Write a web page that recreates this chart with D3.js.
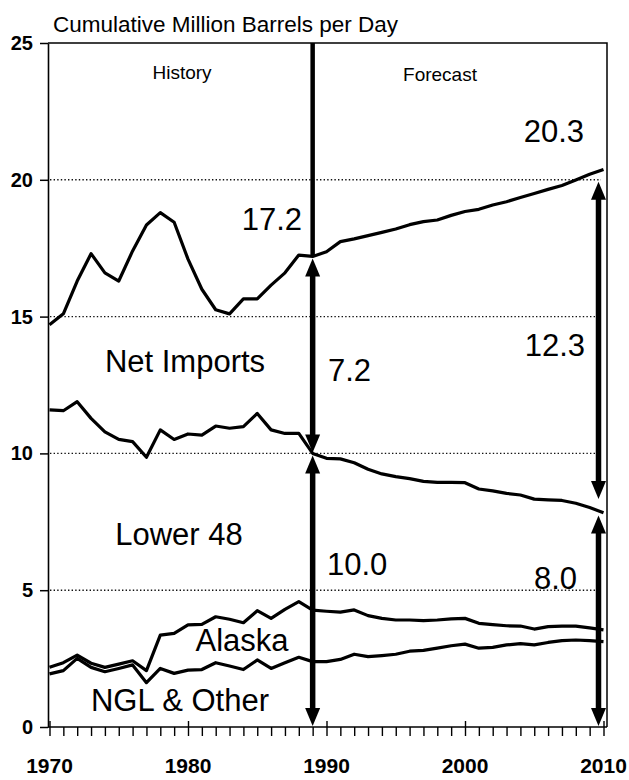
<!DOCTYPE html>
<html>
<head>
<meta charset="utf-8">
<script src="https://cdn.jsdelivr.net/npm/d3@7"></script>
<style>
  html, body { margin: 0; padding: 0; background: #fff; }
  svg { display: block; font-family: "Liberation Sans", Arial, Helvetica, sans-serif; }
</style>
</head>
<body>
<div id="chart"></div>
<script>
(function () {
  const WIDTH  = 629;
  const HEIGHT = 780;

  // years 1970..2010, history to 1989, forecast after
  const years = d3.range(1970, 2011);

  // cumulative tops of each band, million barrels per day
  const totalSupply = [14.7, 15.1, 16.3, 17.3, 16.6, 16.3, 17.4, 18.35, 18.8, 18.45,
                       17.1, 16.0, 15.25, 15.1, 15.65, 15.65, 16.15, 16.6, 17.25, 17.2,
                       17.37, 17.74, 17.84, 17.96, 18.08, 18.2, 18.36, 18.47, 18.53, 18.7,
                       18.84, 18.92, 19.08, 19.2, 19.35, 19.5, 19.65, 19.79, 19.99, 20.2, 20.38];
  const lower48Top  = [11.59, 11.56, 11.89, 11.28, 10.79, 10.51, 10.43, 9.86, 10.86, 10.51,
                       10.71, 10.67, 11.0, 10.92, 10.98, 11.46, 10.86, 10.73, 10.73, 10.0,
                       9.82, 9.8, 9.66, 9.42, 9.25, 9.15, 9.08, 8.98, 8.94, 8.94,
                       8.93, 8.7, 8.63, 8.54, 8.48, 8.33, 8.3, 8.28, 8.18, 8.02, 7.83];
  const alaskaTop   = [2.18, 2.35, 2.63, 2.33, 2.18, 2.3, 2.42, 2.06, 3.36, 3.42,
                       3.73, 3.75, 4.03, 3.94, 3.81, 4.25, 3.97, 4.3, 4.58, 4.27,
                       4.23, 4.2, 4.28, 4.07, 3.97, 3.91, 3.91, 3.89, 3.91, 3.95,
                       3.97, 3.79, 3.74, 3.7, 3.69, 3.58, 3.67, 3.69, 3.69, 3.62, 3.55];
  const nglTop      = [1.94, 2.06, 2.51, 2.18, 2.02, 2.14, 2.27, 1.62, 2.14, 1.96,
                       2.08, 2.1, 2.35, 2.23, 2.1, 2.45, 2.14, 2.35, 2.55, 2.39,
                       2.39, 2.47, 2.66, 2.57, 2.61, 2.66, 2.77, 2.8, 2.88, 2.97,
                       3.03, 2.88, 2.91, 3.0, 3.05, 3.0, 3.09, 3.16, 3.18, 3.16, 3.12];

  const yTicks = [0, 5, 10, 15, 20, 25];
  const xTicks = [1970, 1980, 1990, 2000, 2010];
  const lastHistoryYear = 1989;

  // double-headed arrows: year, top value, bottom value
  const arrows = [
    { year: 1989, from: 17.2, to: 10.0 },
    { year: 1989, from: 10.0, to: 0 },
    { year: 2010, from: 20.0, to: 8.3 },
    { year: 2010, from: 7.8,  to: 0 }
  ];

  const svg = d3.select("#chart").append("svg")
    .attr("width", WIDTH)
    .attr("height", HEIGHT);

  svg.append("rect").attr("width", WIDTH).attr("height", HEIGHT).attr("fill", "#fff");

  const x = d3.scaleLinear().domain([1970, 2010]).range([49.5, 603.5]);
  const y = d3.scaleLinear().domain([0, 25]).range([727, 43]);

  const LEFT = 48, RIGHT = 607, TOP = y(25), BOTTOM = y(0);

  // dotted gridlines
  svg.append("g")
    .selectAll("line")
    .data(yTicks.filter(d => d > 0 && d < 25))
    .join("line")
    .attr("x1", LEFT + 2)
    .attr("x2", RIGHT - 6)
    .attr("y1", d => y(d))
    .attr("y2", d => y(d))
    .attr("stroke", "#111")
    .attr("stroke-width", 1.4)
    .attr("stroke-dasharray", "1.4,2.2");

  // frame top + right
  svg.append("path")
    .attr("d", `M${LEFT},${TOP}H${RIGHT}V${BOTTOM}`)
    .attr("fill", "none")
    .attr("stroke", "#000")
    .attr("stroke-width", 1.5);

  // left axis
  const yAxis = svg.append("g")
    .attr("transform", `translate(${LEFT},0)`)
    .call(d3.axisLeft(y).tickValues(yTicks).tickSize(8).tickPadding(7).tickSizeOuter(0));
  yAxis.select(".domain").attr("stroke-width", 1.6);
  yAxis.selectAll(".tick line").attr("stroke-width", 1.5);
  yAxis.selectAll(".tick text")
    .attr("font-family", "Liberation Sans, Arial, sans-serif")
    .attr("font-size", 20)
    .attr("font-weight", "bold")
    .attr("fill", "#000");

  // bottom axis: minor ticks each year, decade ticks cross the axis
  const xAxis = svg.append("g")
    .attr("transform", `translate(0,${BOTTOM})`)
    .call(d3.axisBottom(x).tickValues(years).tickSize(9).tickFormat("").tickSizeOuter(0));
  xAxis.select(".domain").attr("d", `M${LEFT},0H${RIGHT}`).attr("stroke-width", 1.6);
  xAxis.selectAll(".tick line").attr("stroke-width", 1.4);
  xAxis.selectAll(".tick")
    .filter(d => xTicks.includes(d))
    .select("line")
    .attr("y1", -6);

  svg.append("g")
    .selectAll("text")
    .data(xTicks)
    .join("text")
    .attr("x", d => x(d))
    .attr("y", 773)
    .attr("text-anchor", "middle")
    .attr("font-size", 21)
    .attr("font-weight", "bold")
    .text(d => d);

  // series lines
  const line = d3.line()
    .x((d, i) => x(years[i]))
    .y(d => y(d));

  [totalSupply, lower48Top, alaskaTop, nglTop].forEach(series => {
    svg.append("path")
      .datum(series)
      .attr("fill", "none")
      .attr("stroke", "#000")
      .attr("stroke-width", 3.2)
      .attr("stroke-linejoin", "round")
      .attr("d", line);
  });

  // history / forecast divider
  svg.append("line")
    .attr("x1", x(lastHistoryYear))
    .attr("x2", x(lastHistoryYear))
    .attr("y1", TOP)
    .attr("y2", y(17.2))
    .attr("stroke", "#000")
    .attr("stroke-width", 4.5);

  // double arrows
  const HEAD_W = 15, HEAD_H = 18;
  arrows.forEach(a => {
    const ax = a.year === 2010 ? x(a.year) - 5 : x(a.year);
    const y1 = y(a.from) + 2;
    const y2 = y(a.to) - 1;
    const g = svg.append("g");
    g.append("line")
      .attr("x1", ax).attr("x2", ax)
      .attr("y1", y1 + HEAD_H - 2).attr("y2", y2 - HEAD_H + 2)
      .attr("stroke", "#000")
      .attr("stroke-width", 5.5);
    g.append("path")
      .attr("d", `M${ax},${y1}L${ax - HEAD_W / 2},${y1 + HEAD_H}L${ax + HEAD_W / 2},${y1 + HEAD_H}Z`)
      .attr("fill", "#000");
    g.append("path")
      .attr("d", `M${ax},${y2}L${ax - HEAD_W / 2},${y2 - HEAD_H}L${ax + HEAD_W / 2},${y2 - HEAD_H}Z`)
      .attr("fill", "#000");
  });

  // titles and labels
  svg.append("text")
    .attr("x", 53)
    .attr("y", 32)
    .attr("font-size", 22.5)
    .text("Cumulative Million Barrels per Day");

  svg.append("text").attr("x", 182).attr("y", 79)
    .attr("text-anchor", "middle").attr("font-size", 19).text("History");
  svg.append("text").attr("x", 440).attr("y", 81)
    .attr("text-anchor", "middle").attr("font-size", 19).text("Forecast");

  const bigLabels = [
    { text: "20.3",        x: 584, y: 142, anchor: "end" },
    { text: "17.2",        x: 302, y: 230, anchor: "end" },
    { text: "Net Imports", x: 185, y: 372, anchor: "middle" },
    { text: "7.2",         x: 328, y: 381, anchor: "start" },
    { text: "12.3",        x: 585, y: 356, anchor: "end" },
    { text: "Lower 48",    x: 179, y: 545, anchor: "middle" },
    { text: "10.0",        x: 327, y: 575, anchor: "start" },
    { text: "8.0",         x: 577, y: 589, anchor: "end" },
    { text: "Alaska",      x: 242, y: 651, anchor: "middle" },
    { text: "NGL & Other", x: 180, y: 711, anchor: "middle" }
  ];

  svg.append("g")
    .selectAll("text")
    .data(bigLabels)
    .join("text")
    .attr("x", d => d.x)
    .attr("y", d => d.y)
    .attr("text-anchor", d => d.anchor)
    .attr("font-size", 31)
    .text(d => d.text);
})();
</script>
</body>
</html>
